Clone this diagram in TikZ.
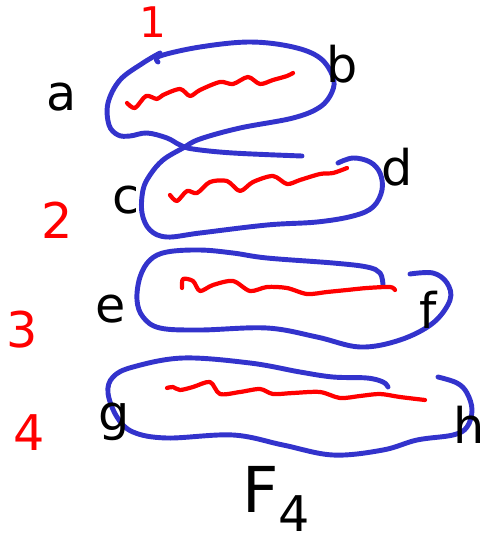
\documentclass[tikz,border=0pt]{standalone}
\usepackage{fontspec}
\setmainfont{DejaVu Sans}
\definecolor{loopblue}{RGB}{51,51,204}
\definecolor{wavered}{RGB}{255,0,0}
\tikzset{
  loopline/.style={draw=loopblue, line width=2.8pt, line cap=round, line join=round},
  waveline/.style={draw=wavered, line width=2.4pt, line cap=round, line join=round},
  letter/.style={inner sep=0pt, anchor=base, text=black, font=\fontsize{28}{28}\selectfont},
  numlabel/.style={inner sep=0pt, anchor=base, text=wavered, font=\fontsize{28}{28}\selectfont},
}
\begin{document}
\begin{tikzpicture}[x=0.02cm, y=-0.02cm]
\useasboundingbox (0,0) rectangle (487,541);

% first loop: left side and its tail
\draw[loopline] plot[smooth, tension=0.6] coordinates {
  (160,53) (143,63) (120,80) (108,103) (109,125) (118,135) (130,136)
  (147,133) (167,138) (180,145) (193,149) (233,153) (302,156)};
% first loop: top and right side, running on into the second loop
\draw[loopline] plot[smooth, tension=0.6] coordinates {
  (158,62) (160,56) (200,47) (250,42) (293,47) (320,58) (333,77) (332,92)
  (320,107) (293,118) (240,128) (200,139) (183,148) (163,160) (150,175)
  (143,190) (142,213) (150,230) (167,237) (200,233) (267,225) (317,222)
  (353,216) (373,207) (382,190) (380,173) (370,162) (353,158) (338,163)};
% third loop
\draw[loopline] plot[smooth, tension=0.6] coordinates {
  (383,285) (380,273) (367,267) (333,263) (267,258) (233,253) (200,250)
  (167,252) (150,260) (140,277) (137,300) (143,317) (160,328) (200,330)
  (267,328) (317,337) (360,347) (400,340) (433,323) (450,300) (447,283)
  (433,273) (410,274)};
% fourth loop
\draw[loopline] plot[smooth, tension=0.6] coordinates {
  (388,387) (383,382) (367,378) (333,377) (300,372) (250,363) (183,358)
  (133,367) (113,377) (108,393) (117,417) (133,432) (167,438) (233,435)
  (283,445) (333,455) (383,450) (417,440) (453,435) (467,427) (472,410)
  (467,393) (457,383) (438,377)};

% wavy strokes inside the loops
\draw[waveline] plot[smooth, tension=0.5] coordinates {
  (127,103) (135,108) (146,96) (157,99) (163,95) (180,89) (190,96) (200,90)
  (220,82) (233,84) (248,77) (260,84) (273,80) (287,76) (293,73)};
\draw[waveline] plot[smooth, tension=0.5] coordinates {
  (170,195) (177,201) (187,191) (197,193) (210,182) (227,181) (240,191)
  (253,182) (273,176) (287,184) (300,180) (320,174) (333,173) (347,168)};
\draw[waveline] plot[smooth, tension=0.5] coordinates {
  (182,288) (183,279) (193,281) (200,291) (213,285) (233,281) (250,291)
  (267,287) (287,288) (307,294) (327,292) (347,290) (367,288) (390,287) (395,290)};
\draw[waveline] plot[smooth, tension=0.5] coordinates {
  (167,388) (173,387) (180,390) (193,387) (210,382) (220,394) (240,392)
  (260,389) (273,394) (293,393) (320,392) (340,398) (360,396) (380,394)
  (400,397) (425,400)};

% end point letters
\node[letter] (a) at (62,110) {a};
\node[letter] (b) at (342,82) {b};
\node[letter] (c) at (126,213) {c};
\node[letter] (d) at (397,185) {d};
\node[letter] (e) at (111,322) {e};
\node[letter] (f) at (428,328) {f};
\node[letter] (g) at (114,430) {g};
\node[letter] (h) at (469,443) {h};

% loop numbers
\node[numlabel, font=\fontsize{24}{24}\selectfont] (n1) at (153,37) {1};
\node[numlabel] (n2) at (57,238) {2};
\node[numlabel] (n3) at (22,347) {3};
\node[numlabel] (n4) at (29,450) {4};

% name of the whole family
\node[letter, font=\fontsize{36}{36}\selectfont] (F4) at (276,512)
  {F\raisebox{-0.55ex}{\fontsize{28}{28}\selectfont 4}};
\end{tikzpicture}
\end{document}
